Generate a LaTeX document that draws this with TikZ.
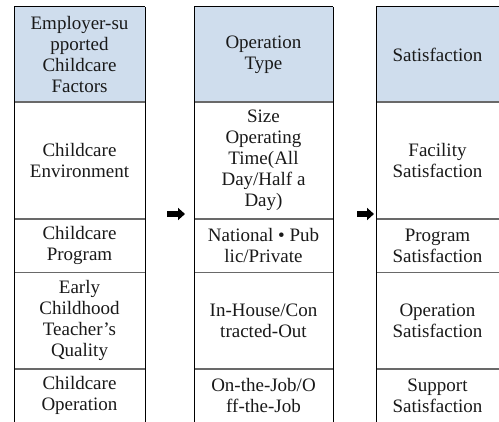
\documentclass[tikz,border=0pt]{standalone}
\usepackage{fontspec}
\setmainfont{Liberation Serif}
\usetikzlibrary{arrows.meta}
\definecolor{hdr}{RGB}{207,221,237}
\definecolor{rulegray}{RGB}{105,105,105}
\begin{document}
\begin{tikzpicture}[x=1pt,y=-1pt,
  cell/.style={align=center, font=\fontsize{19}{21}\selectfont, inner sep=0pt, text=black!90},
  vline/.style={black, line width=1pt},
  hline/.style={rulegray, line width=1.2pt},
  topline/.style={black, line width=1pt},
  flowarrow/.style={line width=6pt, -{Triangle[length=7pt,width=12pt]}}]
\useasboundingbox (0,0) rectangle (499,422);
% header fills
\fill[hdr] (14,7) rectangle (145,102);
\fill[hdr] (194,7) rectangle (333,102);
\fill[hdr] (376,7) rectangle (499,102);
% horizontal rules
\foreach \a/\b in {14/145, 194/333, 376/499} {
  \draw[topline] (\a,7) -- (\b,7);
  \foreach \y in {102,219,272.5,369} \draw[hline] (\a,\y) -- (\b,\y);
}
% vertical rules
\foreach \x in {14,145,194,333,376} \draw[vline] (\x,7) -- (\x,422);
% column 1
\node[cell] (h1) at (79.5,54.5) {Employer-su\\pported\\Childcare\\Factors};
\node[cell] (a1) at (79.5,160.5) {Childcare\\Environment};
\node[cell] (a2) at (79.5,245.5) {Childcare\\Program};
\node[cell] (a3) at (79.5,320.5) {Early\\Childhood\\Teacher’s\\Quality};
\node[cell] (a4) at (79.5,395.5) {Childcare\\Operation};
% column 2
\node[cell] (h2) at (263.5,54.5) {Operation\\Type};
\node[cell] (b1) at (263.5,160.5) {Size\\Operating\\Time(All\\Day/Half a\\Day)};
\node[cell] (b2) at (263.5,245.5) {National • Pub\\lic/Private};
\node[cell] (b3) at (263.5,320.5) {In-House/Con\\tracted-Out};
\node[cell] (b4) at (263.5,395.5) {On-the-Job/O\\ff-the-Job};
% column 3
\node[cell] (h3) at (437.5,54.5) {Satisfaction};
\node[cell] (c1) at (437.5,160.5) {Facility\\Satisfaction};
\node[cell] (c2) at (437.5,245.5) {Program\\Satisfaction};
\node[cell] (c3) at (437.5,320.5) {Operation\\Satisfaction};
\node[cell] (c4) at (437.5,395.5) {Support\\Satisfaction};
% arrows
\coordinate (p1s) at (167,214);
\coordinate (p1e) at (185,214);
\coordinate (p2s) at (357,214);
\coordinate (p2e) at (374,214);
\draw[flowarrow] (p1s) -- (p1e);
\draw[flowarrow] (p2s) -- (p2e);
\end{tikzpicture}
\end{document}
